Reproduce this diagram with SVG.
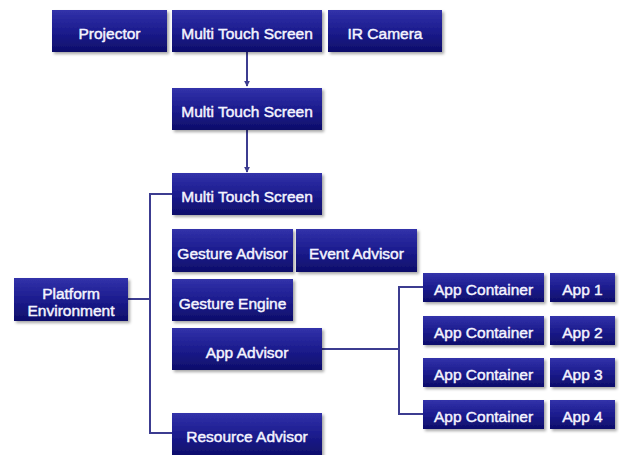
<svg xmlns="http://www.w3.org/2000/svg" width="619" height="455" viewBox="0 0 619 455">
<defs>
<linearGradient id="g" x1="0" y1="0" x2="0" y2="1">
<stop offset="0" stop-color="#3232aa"/>
<stop offset="0.5" stop-color="#1c1c8e"/>
<stop offset="1" stop-color="#0e0e6a"/>
</linearGradient>
<filter id="sh" x="-10%" y="-10%" width="125%" height="140%">
<feDropShadow dx="2" dy="2" stdDeviation="1.5" flood-color="#000" flood-opacity="0.35"/>
</filter>
<marker id="arr" viewBox="0 0 8 8" refX="7" refY="4" markerWidth="6" markerHeight="6" orient="auto" markerUnits="userSpaceOnUse">
<path d="M0,0 L8,4 L0,8 z" fill="#3c3c90"/>
</marker>
<style>
.b{fill:url(#g);filter:url(#sh)}
.t{fill:#f4f4ff;stroke:#f4f4ff;stroke-width:0.45px;font-family:"Liberation Sans",Arial,sans-serif;font-size:15.5px;text-anchor:middle}
.c{fill:none;stroke:#3c3c90;stroke-width:2}
</style>
</defs>
<rect width="619" height="455" fill="#fff"/>
<g id="connectors">
<path class="c" d="M247,52 V86" marker-end="url(#arr)"/>
<path class="c" d="M247,130 V172" marker-end="url(#arr)"/>
<path class="c" d="M172,194 H150 V433 H172"/>
<path class="c" d="M128,299 H150"/>
<path class="c" d="M322,349 H399"/>
<path class="c" d="M423,287 H399 V414 H423"/>
</g>
<g id="projector"><rect class="b" x="52" y="10" width="115" height="42"/><text class="t" x="109.5" y="38.5">Projector</text></g>
<g id="mts1"><rect class="b" x="172" y="10" width="150" height="42"/><text class="t" x="247" y="39">Multi Touch Screen</text></g>
<g id="ircamera"><rect class="b" x="328" y="10" width="114" height="42"/><text class="t" x="385" y="39">IR Camera</text></g>
<g id="mts2"><rect class="b" x="172" y="88" width="150" height="42"/><text class="t" x="247" y="117">Multi Touch Screen</text></g>
<g id="mts3"><rect class="b" x="172" y="173" width="150" height="42"/><text class="t" x="247" y="202">Multi Touch Screen</text></g>
<g id="gestureadvisor"><rect class="b" x="172" y="229" width="121" height="43"/><text class="t" x="232.5" y="258.5">Gesture Advisor</text></g>
<g id="eventadvisor"><rect class="b" x="296" y="229" width="121" height="43"/><text class="t" x="356.5" y="258.5">Event Advisor</text></g>
<g id="gestureengine"><rect class="b" x="172" y="279" width="121" height="42"/><text class="t" x="232.5" y="308.5">Gesture Engine</text></g>
<g id="platform"><rect class="b" x="14" y="278" width="114" height="43"/><text class="t" x="71" y="299">Platform</text><text class="t" x="71" y="316">Environment</text></g>
<g id="appadvisor"><rect class="b" x="172" y="328" width="150" height="42"/><text class="t" x="247" y="357.5">App Advisor</text></g>
<g id="resourceadvisor"><rect class="b" x="172" y="413" width="150" height="43"/><text class="t" x="247" y="441.5">Resource Advisor</text></g>
<g id="ac1"><rect class="b" x="423" y="273" width="121" height="29"/><text class="t" x="483.5" y="295">App Container</text></g>
<g id="ac2"><rect class="b" x="423" y="316" width="121" height="29"/><text class="t" x="483.5" y="338">App Container</text></g>
<g id="ac3"><rect class="b" x="423" y="358" width="121" height="29"/><text class="t" x="483.5" y="380">App Container</text></g>
<g id="ac4"><rect class="b" x="423" y="400" width="121" height="29"/><text class="t" x="483.5" y="422">App Container</text></g>
<g id="app1"><rect class="b" x="550" y="273" width="65" height="29"/><text class="t" x="582.5" y="295">App 1</text></g>
<g id="app2"><rect class="b" x="550" y="316" width="65" height="29"/><text class="t" x="582.5" y="338">App 2</text></g>
<g id="app3"><rect class="b" x="550" y="358" width="65" height="29"/><text class="t" x="582.5" y="380">App 3</text></g>
<g id="app4"><rect class="b" x="550" y="400" width="65" height="29"/><text class="t" x="582.5" y="422">App 4</text></g>
</svg>
